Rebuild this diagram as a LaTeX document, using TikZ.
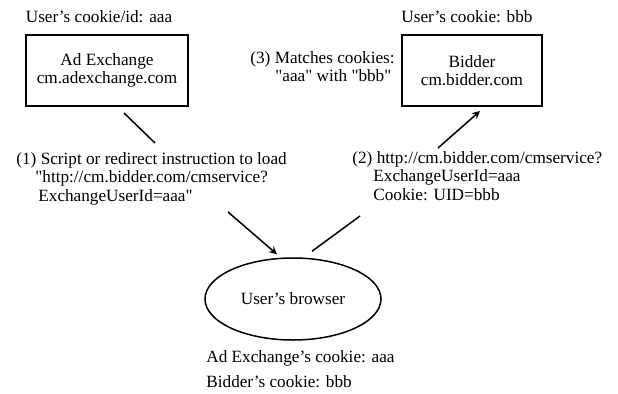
\documentclass[tikz,border=0pt]{standalone}
\usepackage{fontspec}
\setmainfont{Liberation Serif}
\usepackage{tikz}
\usetikzlibrary{arrows,positioning,shapes.geometric}
\tikzset{font=\fontsize{8.6}{9.3}\selectfont}
\tikzset{every node/.append style={transform shape=false, inner sep=0pt}}
\tikzset{server/.style={draw, line width=1pt, align=center, minimum width=81pt, minimum height=35.5pt}}
\tikzset{note/.style={align=left, anchor=north west}}
\tikzset{link/.style={line width=0.75pt}}
\newcommand{\qq}{\textquotedbl}

\begin{document}
\begin{tikzpicture}[x=0.5pt, y=-0.5pt]
  \useasboundingbox (0,0) rectangle (618,393);

  \node[server] (adx) at (107,70.5) {Ad Exchange\\cm.adexchange.com};
  \node[server, minimum width=70pt] (bid) at (472,70.5) {Bidder\\cm.bidder.com};
  \node[draw, ellipse, line width=0.75pt, minimum width=88pt, minimum height=41pt] (browser) at (293,299) {User's browser};

  \node (adxid) at (99,17) {User's cookie/id: aaa};
  \node (bidid) at (467,17) {User's cookie: bbb};

  \node[note] (step1) at (16,152) {(1) Script or redirect instruction to load\\
    \hspace*{9.5pt}\qq http://cm.bidder.com/cmservice?\\
    \hspace*{11pt}ExchangeUserId=aaa\qq};
  \node[note] (step2) at (352,151) {(2) http://cm.bidder.com/cmservice?\\
    \hspace*{10.5pt}ExchangeUserId=aaa\\
    \hspace*{10.5pt}Cookie: UID=bbb};
  \node[note] (step3) at (250,51) {(3) Matches cookies:\\
    \hspace*{12.5pt}\qq aaa\qq{} with \qq bbb\qq};
  \node[note, font=\fontsize{8.6}{12.5}\selectfont] (cookies) at (206,350) {Ad Exchange's cookie: aaa\\
    Bidder's cookie: bbb};

  % exchange -> browser -> bidder
  \draw[link] ([xshift=8.5pt,yshift=-3pt]adx.south) -- ([xshift=69.5pt,yshift=4.5pt]step1.north west);
  \draw[link,-stealth] ([xshift=106pt,yshift=-30pt]step1.north west) -- ([xshift=-8pt,yshift=1.5pt]browser.north);
  \draw[link] ([xshift=9.5pt,yshift=3pt]browser.north) -- ([xshift=4pt,yshift=-32.5pt]step2.north west);
  \draw[link,-stealth] ([xshift=43pt,yshift=1.5pt]step2.north west) -- ([xshift=4pt,yshift=-2pt]bid.south);
\end{tikzpicture}
\end{document}
